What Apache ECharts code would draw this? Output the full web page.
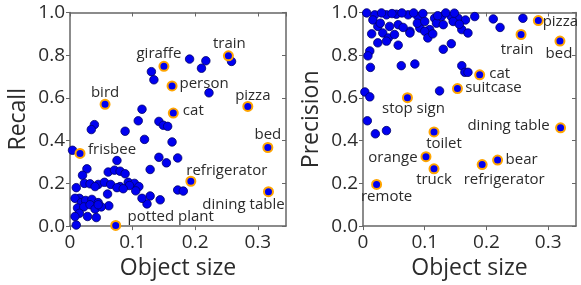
<!DOCTYPE html>
<html>
<head>
<meta charset="utf-8">
<script src="https://cdn.jsdelivr.net/npm/echarts@6/dist/echarts.min.js"></script>
<style>
  html, body { margin: 0; padding: 0; background: #fff; }
  #chart { width: 581px; height: 285px; }
</style>
</head>
<body>
<div id="chart"></div>
<script>
// left panel: recall vs object size (plain points)
const recallSize = [0.130, 0.134, 0.191, 0.210, 0.217, 0.258, 0.222,
  0.115, 0.109, 0.142, 0.149, 0.156, 0.163, 0.119, 0.088, 0.039, 0.034, 0.004,
  0.142, 0.154, 0.172, 0.128, 0.075, 0.172, 0.181, 0.128, 0.144, 0.123, 0.115,
  0.027, 0.020, 0.061, 0.071, 0.080, 0.088, 0.023, 0.032, 0.045, 0.055, 0.065,
  0.080, 0.093, 0.103, 0.110, 0.095, 0.010, 0.015, 0.040, 0.060, 0.075, 0.085,
  0.105, 0.062, 0.008, 0.018, 0.025, 0.035, 0.045, 0.012, 0.022, 0.032, 0.040,
  0.050, 0.015, 0.028, 0.042, 0.008, 0.010, 0.045];
const recallValue = [0.723, 0.685, 0.782, 0.739, 0.774, 0.771, 0.624,
  0.547, 0.493, 0.490, 0.472, 0.467, 0.394, 0.406, 0.444, 0.475, 0.452, 0.355,
  0.322, 0.296, 0.319, 0.265, 0.307, 0.169, 0.164, 0.141, 0.123, 0.104, 0.130,
  0.268, 0.238, 0.253, 0.262, 0.257, 0.245, 0.200, 0.198, 0.195, 0.205, 0.195,
  0.185, 0.205, 0.200, 0.185, 0.190, 0.180, 0.130, 0.185, 0.150, 0.180, 0.175,
  0.165, 0.095, 0.130, 0.110, 0.120, 0.125, 0.110, 0.085, 0.090, 0.100, 0.080,
  0.090, 0.060, 0.045, 0.040, 0.045, 0.005, 0.100];

// left panel: labelled points
const recallTags = ['bird', 'giraffe', 'train', 'person', 'cat', 'pizza', 'bed',
  'frisbee', 'refrigerator', 'dining table', 'potted plant'];
const recallTagSize = [0.056, 0.150, 0.253, 0.163, 0.165, 0.284, 0.316,
  0.016, 0.193, 0.317, 0.073];
const recallTagValue = [0.570, 0.748, 0.797, 0.656, 0.529, 0.560, 0.368,
  0.340, 0.210, 0.161, 0.003];

// right panel: precision vs object size (plain points)
const precSize = [0.019, 0.038, 0.054, 0.073, 0.089, 0.116, 0.127, 0.143, 0.154,
  0.024, 0.043, 0.057, 0.076, 0.092, 0.108, 0.119, 0.130, 0.146,
  0.014, 0.032, 0.041, 0.051, 0.100, 0.024, 0.038, 0.057, 0.105,
  0.011, 0.008, 0.062, 0.084, 0.130, 0.143, 0.160, 0.160, 0.165,
  0.012, 0.003, 0.011, 0.124,
  0.181, 0.211, 0.222, 0.259, 0.170, 0.170,
  0.007, 0.020, 0.038,
  0.006, 0.030, 0.047, 0.063, 0.082, 0.097, 0.134, 0.148, 0.166, 0.113,
  0.016, 0.028, 0.065, 0.088, 0.156, 0.121, 0.100, 0.076];
const precValue = [0.989, 0.989, 0.992, 0.989, 0.981, 0.973, 0.981, 0.981, 0.973,
  0.935, 0.935, 0.943, 0.912, 0.927, 0.920, 0.950, 0.943, 0.958,
  0.900, 0.904, 0.881, 0.897, 0.912, 0.858, 0.866, 0.847, 0.881,
  0.820, 0.797, 0.751, 0.759, 0.828, 0.854, 0.920, 0.751, 0.720,
  0.743, 0.628, 0.605, 0.633,
  0.981, 0.970, 0.930, 0.973, 0.904, 0.720,
  0.493, 0.432, 0.447,
  0.998, 0.998, 0.995, 0.998, 0.998, 0.995, 0.998, 0.997, 0.965, 0.900,
  0.965, 0.950, 0.930, 0.950, 0.945, 0.985, 0.958, 0.904];

// right panel: labelled points
const precTags = ['pizza', 'train', 'bed', 'cat', 'suitcase', 'stop sign',
  'dining table', 'toilet', 'orange', 'truck', 'bear', 'refrigerator', 'remote'];
const precTagSize = [0.284, 0.256, 0.319, 0.189, 0.153, 0.072,
  0.320, 0.115, 0.102, 0.115, 0.218, 0.193, 0.022];
const precTagValue = [0.962, 0.897, 0.866, 0.708, 0.644, 0.601,
  0.460, 0.441, 0.325, 0.268, 0.309, 0.288, 0.195];

const xTicks = ['0', '0.1', '0.2', '0.3'];
const yTicks = ['0.0', '0.2', '0.4', '0.6', '0.8', '1.0'];

// label offsets (label centre relative to point, px)
const recallOffset = {
  'bird': [0, -12], 'giraffe': [-5, -13], 'train': [1, -12], 'person': [32, -2],
  'cat': [20, -2], 'pizza': [5, -11], 'bed': [0, -13], 'frisbee': [32, -4],
  'refrigerator': [36, -11], 'dining table': [-25, 13], 'potted plant': [55, -9]
};
const precOffset = {
  'pizza': [22, 1], 'train': [-4, 15], 'bed': [-1, 13], 'cat': [20, -1],
  'suitcase': [36, -1], 'stop sign': [6, 11], 'dining table': [-52, -2],
  'toilet': [10, 12], 'orange': [-33, 1], 'truck': [0, 11], 'bear': [24, 0],
  'refrigerator': [22, 15], 'remote': [10, 12]
};

const FONT = 'Open Sans';
const TEXT = '#2b2b2b';
const FRAME = '#666';

function pairs (xs, ys) {
  return xs.map((x, i) => [x, ys[i]]);
}

function tagged (names, xs, ys, offsets) {
  return names.map((n, i) => ({
    name: n,
    value: [xs[i], ys[i]],
    label: { offset: offsets[n] }
  }));
}

function axesFor (grid, yName) {
  const line = { onZero: false, lineStyle: { color: FRAME, width: 1.5 } };
  const xBase = {
    gridIndex: grid, type: 'value', min: 0, max: 0.345, interval: 0.1,
    splitLine: { show: false }, axisLine: line
  };
  const yBase = {
    gridIndex: grid, type: 'value', min: 0, max: 1, interval: 0.2,
    splitLine: { show: false }, axisLine: line
  };
  return {
    x: [
      Object.assign({}, xBase, {
        position: 'bottom',
        name: 'Object size', nameLocation: 'middle', nameGap: 27,
        nameTextStyle: { fontFamily: FONT, fontSize: 23, color: TEXT },
        axisTick: { inside: false, length: 4, lineStyle: { color: FRAME } },
        axisLabel: {
          fontFamily: FONT, fontSize: 19, color: TEXT, margin: 7,
          showMaxLabel: false,
          formatter: v => xTicks[Math.round(v * 10)] || ''
        }
      }),
      Object.assign({}, xBase, {
        position: 'top',
        axisTick: { inside: true, length: 4, lineStyle: { color: FRAME } },
        axisLabel: { show: false }
      })
    ],
    y: [
      Object.assign({}, yBase, {
        position: 'left',
        name: yName, nameLocation: 'middle', nameGap: 40,
        nameTextStyle: { fontFamily: FONT, fontSize: 23, color: TEXT },
        axisTick: { inside: false, length: 4, lineStyle: { color: FRAME } },
        axisLabel: {
          fontFamily: FONT, fontSize: 19, color: TEXT, margin: 5,
          formatter: v => yTicks[Math.round(v * 5)]
        }
      }),
      Object.assign({}, yBase, {
        position: 'right',
        axisTick: { inside: true, length: 4, lineStyle: { color: FRAME } },
        axisLabel: { show: false }
      })
    ]
  };
}

const leftAxes = axesFor(0, 'Recall');
const rightAxes = axesFor(1, 'Precision');

const plainStyle = { color: '#0000f0', borderColor: '#00006a', borderWidth: 0.8, opacity: 1 };
const tagStyle = { color: '#0000f0', borderColor: '#ffa500', borderWidth: 2, opacity: 1 };
const tagLabel = {
  show: true, position: 'inside', formatter: '{b}',
  fontFamily: FONT, fontSize: 15, color: TEXT
};

const myChart = echarts.init(document.getElementById('chart'), null, { renderer: 'canvas' });

const option = {
  backgroundColor: '#fff',
  animation: false,
  grid: [
    { left: 70, top: 12.5, width: 216, height: 217.5 },
    { left: 363, top: 12.5, width: 213, height: 217.5 }
  ],
  xAxis: leftAxes.x.concat(rightAxes.x),
  yAxis: leftAxes.y.concat(rightAxes.y),
  series: [
    {
      type: 'scatter', xAxisIndex: 0, yAxisIndex: 0,
      symbolSize: 8.5, itemStyle: plainStyle,
      data: pairs(recallSize, recallValue)
    },
    {
      type: 'scatter', xAxisIndex: 0, yAxisIndex: 0,
      symbolSize: 9, itemStyle: tagStyle, label: tagLabel,
      data: tagged(recallTags, recallTagSize, recallTagValue, recallOffset)
    },
    {
      type: 'scatter', xAxisIndex: 2, yAxisIndex: 2,
      symbolSize: 8.5, itemStyle: plainStyle,
      data: pairs(precSize, precValue)
    },
    {
      type: 'scatter', xAxisIndex: 2, yAxisIndex: 2,
      symbolSize: 9, itemStyle: tagStyle, label: tagLabel,
      data: tagged(precTags, precTagSize, precTagValue, precOffset)
    }
  ]
};

myChart.setOption(option);
</script>
</body>
</html>
